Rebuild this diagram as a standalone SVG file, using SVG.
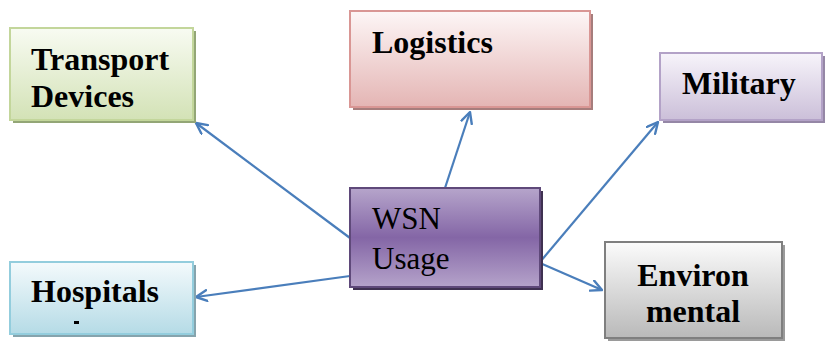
<svg xmlns="http://www.w3.org/2000/svg" width="826" height="345" viewBox="0 0 826 345">
<defs>
<linearGradient id="gGreen" x1="0" y1="0" x2="0" y2="1"><stop offset="0" stop-color="#f8fbf2"/><stop offset="1" stop-color="#d3e2b6"/></linearGradient>
<linearGradient id="gRed" x1="0" y1="0" x2="0" y2="1"><stop offset="0" stop-color="#fdf6f6"/><stop offset="1" stop-color="#e4b5b4"/></linearGradient>
<linearGradient id="gPurple" x1="0" y1="0" x2="0" y2="1"><stop offset="0" stop-color="#f7f4fa"/><stop offset="1" stop-color="#cbbfd9"/></linearGradient>
<linearGradient id="gWsn" x1="0" y1="0" x2="0" y2="1"><stop offset="0" stop-color="#b6a5cb"/><stop offset="0.5" stop-color="#8466a6"/><stop offset="1" stop-color="#b5a3ca"/></linearGradient>
<linearGradient id="gBlue" x1="0" y1="0" x2="0" y2="1"><stop offset="0" stop-color="#f4fafc"/><stop offset="1" stop-color="#b5dbe6"/></linearGradient>
<linearGradient id="gGrey" x1="0" y1="0" x2="0" y2="1"><stop offset="0" stop-color="#fbfbfb"/><stop offset="1" stop-color="#b9b9b9"/></linearGradient>
<marker id="arr" viewBox="0 0 12 12" refX="11" refY="6" markerWidth="13" markerHeight="13" markerUnits="userSpaceOnUse" orient="auto">
<path d="M1,1 L11,6 L1,11" fill="none" stroke="#4a7ebb" stroke-width="2.2" stroke-linecap="round" stroke-linejoin="round"/>
</marker>
<style>
.t{font-family:"Liberation Serif","Times New Roman",serif;font-size:32px;font-weight:bold;fill:#000}
.n{font-family:"Liberation Serif","Times New Roman",serif;font-size:31px;fill:#000}
.c{stroke:#4a7ebb;stroke-width:2.2;fill:none;marker-end:url(#arr)}
</style>
</defs>
<g id="connectors">
<line class="c" x1="350" y1="238" x2="196" y2="123"/>
<line class="c" x1="445" y1="188" x2="470" y2="112"/>
<line class="c" x1="540" y1="262" x2="658" y2="122"/>
<line class="c" x1="350" y1="276" x2="196" y2="297"/>
<line class="c" x1="540" y1="263" x2="602" y2="290"/>
</g>
<g id="transport">
<rect x="13" y="31" width="183" height="92" fill="#93a676"/>
<rect x="10" y="28" width="183" height="92" fill="url(#gGreen)" stroke="#c3d69b" stroke-width="2"/>
<text class="t" x="31" y="70">Transport</text>
<text class="t" x="31" y="107">Devices</text>
</g>
<g id="logistics">
<rect x="353" y="14" width="240" height="96" fill="#a67d7c"/>
<rect x="350" y="11" width="240" height="96" fill="url(#gRed)" stroke="#d99694" stroke-width="2"/>
<text class="t" x="372" y="53">Logistics</text>
</g>
<g id="military">
<rect x="663" y="56" width="162" height="67" fill="#9587a6"/>
<rect x="660" y="53" width="162" height="67" fill="url(#gPurple)" stroke="#b3a2c7" stroke-width="2"/>
<text class="t" x="682" y="94">Military</text>
</g>
<g id="wsn">
<rect x="353" y="191" width="190" height="99" fill="#3f3151"/>
<rect x="350" y="188" width="190" height="99" fill="url(#gWsn)" stroke="#5f497a" stroke-width="2"/>
<text class="n" x="372" y="229">WSN</text>
<text class="n" x="372" y="269">Usage</text>
</g>
<g id="hospitals">
<rect x="13" y="265" width="183" height="72" fill="#86a4ad"/>
<rect x="10" y="262" width="183" height="72" fill="url(#gBlue)" stroke="#93cddd" stroke-width="2"/>
<text class="t" x="31" y="302">Hospitals</text>
<rect x="74" y="321" width="5" height="3" fill="#000"/>
</g>
<g id="environmental">
<rect x="608" y="245" width="177" height="96" fill="#9a9a9a"/>
<rect x="605" y="242" width="177" height="96" fill="url(#gGrey)" stroke="#7f7f7f" stroke-width="2"/>
<text class="t" x="693" y="286" text-anchor="middle">Environ</text>
<text class="t" x="693" y="322" text-anchor="middle">mental</text>
</g>
</svg>
